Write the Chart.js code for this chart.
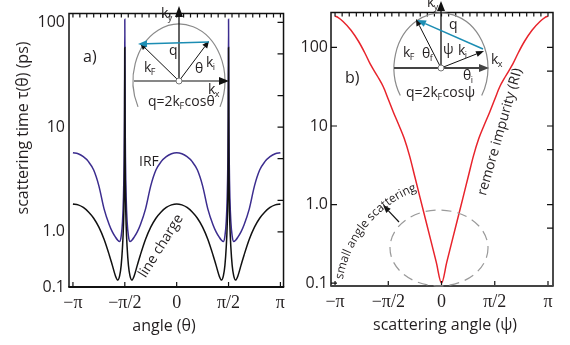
<!DOCTYPE html>
<html><head><meta charset="utf-8">
<script src="https://cdn.jsdelivr.net/npm/chart.js@4.4.0/dist/chart.umd.min.js"></script>
<style>
html,body{margin:0;padding:0;background:#fff;}
#wrap{position:relative;width:570px;height:345px;overflow:hidden;background:#fff;}
canvas{position:absolute;top:0;}
#cL{left:0;width:290px;height:345px;}
#cR{left:290px;width:280px;height:345px;}
</style></head><body>
<div id="wrap"><canvas id="cL" width="290" height="345"></canvas><canvas id="cR" width="280" height="345"></canvas></div>
<script>
// ---------- data (angles in units of pi) ----------
const thetaPi = [-1,-0.95,-0.9,-0.85,-0.8,-0.75,-0.7,-0.65,-0.62,-0.59,-0.568,-0.55,-0.535,-0.522,-0.513,-0.507,-0.503,-0.5,
  -0.497,-0.493,-0.487,-0.478,-0.465,-0.45,-0.432,-0.41,-0.38,-0.35,-0.3,-0.25,-0.2,-0.15,-0.1,-0.05,0,
  0.05,0.1,0.15,0.2,0.25,0.3,0.35,0.38,0.41,0.432,0.45,0.465,0.478,0.487,0.493,0.497,0.5,
  0.503,0.507,0.513,0.522,0.535,0.55,0.568,0.59,0.62,0.65,0.7,0.75,0.8,0.85,0.9,0.95,1];
const tauLineCharge = [1.85,1.81,1.71,1.55,1.35,1.11,0.851,0.603,0.479,0.380,0.347,0.380,0.479,0.724,1.15,2.09,5.62,57.5,
  5.62,2.09,1.15,0.724,0.479,0.380,0.347,0.380,0.479,0.603,0.851,1.11,1.35,1.55,1.71,1.81,1.85,
  1.81,1.71,1.55,1.35,1.11,0.851,0.603,0.479,0.380,0.347,0.380,0.479,0.724,1.15,2.09,5.62,57.5,
  5.62,2.09,1.15,0.724,0.479,0.380,0.347,0.380,0.479,0.603,0.851,1.11,1.35,1.55,1.71,1.81,1.85];
const tauIRF = [5.68,5.56,5.22,4.68,3.89,2.75,1.66,1.17,1.00,0.891,0.832,0.809,0.912,1.26,2.14,4.47,12.6,107,
  12.6,4.47,2.14,1.26,0.912,0.809,0.832,0.891,1.00,1.17,1.66,2.75,3.89,4.68,5.22,5.56,5.68,
  5.56,5.22,4.68,3.89,2.75,1.66,1.17,1.00,0.891,0.832,0.809,0.912,1.26,2.14,4.47,12.6,107,
  12.6,4.47,2.14,1.26,0.912,0.809,0.832,0.891,1.00,1.17,1.66,2.75,3.89,4.68,5.22,5.56,5.68];
const psiPi = [-1,-0.97,-0.925,-0.85,-0.78,-0.72,-0.67,-0.6,-0.547,-0.5,-0.453,-0.4,-0.35,-0.3,-0.25,-0.2,-0.15,-0.1,-0.05,0,
  0.05,0.1,0.15,0.2,0.25,0.3,0.35,0.4,0.453,0.5,0.547,0.6,0.67,0.72,0.78,0.85,0.925,0.97,1];
const tauRI = [251,240,214,166,120,85.1,61.7,42.7,31.6,21.9,15.1,10.2,6.92,4.17,2.24,1.20,0.646,0.347,0.186,0.1,
  0.186,0.347,0.646,1.20,2.24,4.17,6.92,10.2,15.1,21.9,31.6,42.7,61.7,85.1,120,166,214,240,251];

const xTickVals = [-1,-0.5,0,0.5,1];
const xTickLabels = ['\u2212\u03c0','\u2212\u03c0/2','0','\u03c0/2','\u03c0'];
const yTickValsA = [0.298,1,10,100];
const yTickValsB = [0.1,1,10,100];
const yTickLabels = ['0.1','1.0','10','100'];
const rightTicksA = [1,2,5,10,20,50,100];
const rightTicksB = [0.5,1,5,10,50,100];

// ---------- helpers ----------
const SANS = '"Open Sans", "DejaVu Sans", sans-serif';
const TXT = '#231f20';
function arrow(ctx,x1,y1,x2,y2,color,lw,hl,hw){
  ctx.save(); ctx.strokeStyle=color; ctx.fillStyle=color; ctx.lineWidth=lw;
  const a=Math.atan2(y2-y1,x2-x1);
  const bx=x2-hl*Math.cos(a), by=y2-hl*Math.sin(a);
  ctx.beginPath(); ctx.moveTo(x1,y1); ctx.lineTo(bx,by); ctx.stroke();
  ctx.beginPath(); ctx.moveTo(x2,y2);
  ctx.lineTo(bx+hw/2*Math.sin(a), by-hw/2*Math.cos(a));
  ctx.lineTo(bx-hw/2*Math.sin(a), by+hw/2*Math.cos(a));
  ctx.closePath(); ctx.fill(); ctx.restore();
}
function txt(ctx,s,x,y,size,opts){
  opts=opts||{};
  ctx.save(); ctx.fillStyle=opts.color||TXT; ctx.font=(opts.style||'')+' '+size+'px '+SANS;
  ctx.textAlign=opts.align||'left'; ctx.textBaseline=opts.base||'alphabetic';
  ctx.translate(x,y); if(opts.rot) ctx.rotate(opts.rot);
  ctx.fillText(s,0,0); ctx.restore();
}
function ksub(ctx,main,sub,x,y,size){
  ctx.save(); ctx.font=size+'px '+SANS; ctx.fillStyle=TXT; ctx.textBaseline='alphabetic';
  ctx.fillText(main,x,y); const w=ctx.measureText(main).width;
  ctx.font=Math.round(size*0.62)+'px '+SANS; ctx.fillText(sub,x+w-0.5,y+3); ctx.restore();
}
function formula(ctx,a,sub,b,x,y,size){
  ctx.save(); ctx.font=size+'px '+SANS; ctx.fillStyle=TXT;
  ctx.fillText(a,x,y); let w=ctx.measureText(a).width;
  ctx.font=Math.round(size*0.62)+'px '+SANS; ctx.fillText(sub,x+w-0.5,y+3);
  const w2=ctx.measureText(sub).width;
  ctx.font=size+'px '+SANS; ctx.fillText(b,x+w+w2,y); ctx.restore();
}
function smallCircle(ctx,x,y){
  ctx.save(); ctx.beginPath(); ctx.arc(x,y,3,0,Math.PI*2); ctx.fillStyle='#fff'; ctx.fill();
  ctx.strokeStyle='#777'; ctx.lineWidth=1; ctx.stroke(); ctx.restore();
}
function drawFrame(chart,rightTicks,leftTicks,bottomColor,bottomWidth){
  const {ctx,chartArea:a,scales:{x,y}}=chart;
  ctx.save(); ctx.strokeStyle='#111'; ctx.lineWidth=1.5;
  ctx.beginPath();
  ctx.moveTo(a.left,a.bottom); ctx.lineTo(a.left,a.top); ctx.lineTo(a.right,a.top); ctx.lineTo(a.right,a.bottom);
  ctx.stroke();
  ctx.lineWidth=1.2; ctx.beginPath();
  for(let k=-15;k<=15;k++){const px=x.getPixelForValue(k/15); ctx.moveTo(px,a.top); ctx.lineTo(px,a.top+4);}
  xTickVals.forEach(v=>{const px=x.getPixelForValue(v); ctx.moveTo(px,a.bottom); ctx.lineTo(px,a.bottom-5);});
  rightTicks.forEach(v=>{const py=y.getPixelForValue(v); ctx.moveTo(a.right,py); ctx.lineTo(a.right-6,py);});
  leftTicks.forEach(v=>{const py=y.getPixelForValue(v); ctx.moveTo(a.left,py); ctx.lineTo(a.left+6,py);});
  ctx.stroke();
  ctx.strokeStyle=bottomColor; ctx.lineWidth=bottomWidth; ctx.beginPath();
  ctx.moveTo(a.left-0.7,a.bottom); ctx.lineTo(a.right+0.7,a.bottom); ctx.stroke();
  ctx.restore();
}
function baseOptions(xmin,xmax,ymin,ymax,yTicks,padRight,yWidth,xHeight){
  return {
    responsive:false, animation:false, devicePixelRatio:1,
    layout:{padding:{left:0,right:padRight,top:4,bottom:0}},
    plugins:{legend:{display:false},tooltip:{enabled:false}},
    elements:{point:{radius:0}},
    scales:{
      x:{type:'linear',min:xmin,max:xmax,
        afterBuildTicks:s=>{s.ticks=xTickVals.map(v=>({value:v}));},
        afterFit:s=>{s.height=xHeight;},
        grid:{display:false,drawTicks:false},border:{display:false},
        ticks:{autoSkip:false,maxRotation:0,padding:5,color:TXT,
          font:{family:'"Liberation Serif", serif',size:18},
          callback:(v)=>{const i=xTickVals.indexOf(v);return i>=0?xTickLabels[i]:'';}}},
      y:{type:'logarithmic',min:ymin,max:ymax,
        afterBuildTicks:s=>{s.ticks=yTicks.map(v=>({value:v}));},
        afterFit:s=>{s.width=yWidth;},
        grid:{display:false,drawTicks:false},border:{display:false},
        ticks:{autoSkip:false,padding:4,color:TXT,font:{family:SANS,size:16},
          callback:(v)=>{const i=yTicks.indexOf(v);return i>=0?yTickLabels[i]:'';}}}
    }
  };
}

// ---------- left chart ----------
const optL = baseOptions(-1.038,1.03,0.298,121,yTickValsA,3,69,58);
new Chart(document.getElementById('cL'),{
  type:'line',
  data:{datasets:[
    {label:'line charge',data:thetaPi.map((t,i)=>({x:t,y:tauLineCharge[i]})),borderColor:'#111',borderWidth:1.5,cubicInterpolationMode:'monotone',order:0},
    {label:'IRF',data:thetaPi.map((t,i)=>({x:t,y:tauIRF[i]})),borderColor:'#3c2d8f',borderWidth:1.5,cubicInterpolationMode:'monotone',order:1}
  ]},
  options:optL,
  plugins:[{id:'decoL',afterDraw(chart){
    const ctx=chart.ctx;
    drawFrame(chart,rightTicksA,[],'#111',1.8);
    txt(ctx,'scattering time \u03c4(\u03b8) (ps)',23,128,16,{align:'center',base:'middle',rot:-Math.PI/2});
    txt(ctx,'angle (\u03b8)',164,326,16,{align:'center',base:'middle'});
    txt(ctx,'a)',83,62,16);
    txt(ctx,'IRF',139,166,14);
    txt(ctx,'line charge',161,246,14,{align:'center',base:'middle',rot:-58*Math.PI/180});
    ctx.save(); ctx.strokeStyle='#8a8a8a'; ctx.lineWidth=1.2; ctx.beginPath();
    ctx.ellipse(179,81,46,57,0,153*Math.PI/180,27*Math.PI/180,false); ctx.stroke(); ctx.restore();
    arrow(ctx,134,81,229,81,'#111',1.2,10,8);
    arrow(ctx,179,81,179,6,'#111',1.3,11,8);
    arrow(ctx,179,81,140,43,'#111',1,7,6);
    arrow(ctx,179,81,209,41,'#111',1,7,6);
    arrow(ctx,209,42,138,44,'#1c8db3',1.6,9,7);
    smallCircle(ctx,179,81);
    ksub(ctx,'k','y',161,18,14);
    ksub(ctx,'k','x',208,94,14);
    ksub(ctx,'k','F',144,72,14);
    ksub(ctx,'k','i',206,67,14);
    txt(ctx,'q',169,55,14);
    txt(ctx,'\u03b8',195,73,14);
    formula(ctx,'q=2k','F','cos\u03b8',148,106,14);
  }}]
});

// ---------- right chart ----------
const optR = baseOptions(-1.038,1.047,0.0918,278,yTickValsB,17,41,59);
optR.scales.y.ticks.padding=3;
new Chart(document.getElementById('cR'),{
  type:'line',
  data:{datasets:[
    {label:'remote impurity (RI)',data:psiPi.map((t,i)=>({x:t,y:tauRI[i]})),borderColor:'#e8242c',borderWidth:1.5,cubicInterpolationMode:'monotone'}
  ]},
  options:optR,
  plugins:[{id:'decoR',afterDraw(chart){
    const ctx=chart.ctx;
    drawFrame(chart,rightTicksB,[0.1,1,10,100],'#444',2);
    ctx.save(); ctx.translate(-290,0);
    txt(ctx,'scattering angle (\u03c8)',445,325,16,{align:'center',base:'middle'});
    txt(ctx,'b)',345,83,16);
    txt(ctx,'remore impurity (RI)',500,132,14,{align:'center',base:'middle',rot:-74*Math.PI/180});
    ctx.save(); ctx.strokeStyle='#9a9a9a'; ctx.lineWidth=1.2; ctx.setLineDash([10,6]); ctx.beginPath();
    ctx.ellipse(439,248,49,38,0,0,Math.PI*2); ctx.stroke(); ctx.restore();
    arrow(ctx,399,222,383,205,'#111',1.2,8,6);
    ctx.save(); ctx.font='12px '+SANS; ctx.fillStyle=TXT; ctx.textBaseline='alphabetic';
    const s='small angle scattering'; const cx=458, cy=300, r=117; let ang=190*Math.PI/180;
    for(const ch of s){ const w=ctx.measureText(ch).width; const a=ang+(w/2)/r;
      ctx.save(); ctx.translate(cx+r*Math.cos(a),cy+r*Math.sin(a)); ctx.rotate(a+Math.PI/2);
      ctx.textAlign='center'; ctx.fillText(ch,0,0); ctx.restore(); ang+=w/r; }
    ctx.restore();
    ctx.save(); ctx.strokeStyle='#8a8a8a'; ctx.lineWidth=1.2; ctx.beginPath();
    ctx.ellipse(441,68,47,55,0,150*Math.PI/180,30*Math.PI/180,false); ctx.stroke(); ctx.restore();
    arrow(ctx,394,68,489,68,'#444',2,10,8);
    arrow(ctx,441,68,441,1,'#111',1.3,10,8);
    arrow(ctx,441,68,416,19,'#111',1,7,6);
    arrow(ctx,441,68,484,51,'#111',1,8,6);
    arrow(ctx,483,49,417,20,'#1c8db3',1.6,9,7);
    smallCircle(ctx,441,68);
    ksub(ctx,'k','y',427,7,14);
    ksub(ctx,'k','x',491,64,14);
    ksub(ctx,'k','F',403,57,14);
    ksub(ctx,'\u03b8','f',422,58,14);
    txt(ctx,'\u03c8',443,54,14);
    ksub(ctx,'k','i',458,55,14);
    txt(ctx,'q',449,29,14);
    ksub(ctx,'\u03b8','i',463,80,14);
    formula(ctx,'q=2k','F','cos\u03c8',406,97,14);
    ctx.restore();
  }}]
});
</script></body></html>
